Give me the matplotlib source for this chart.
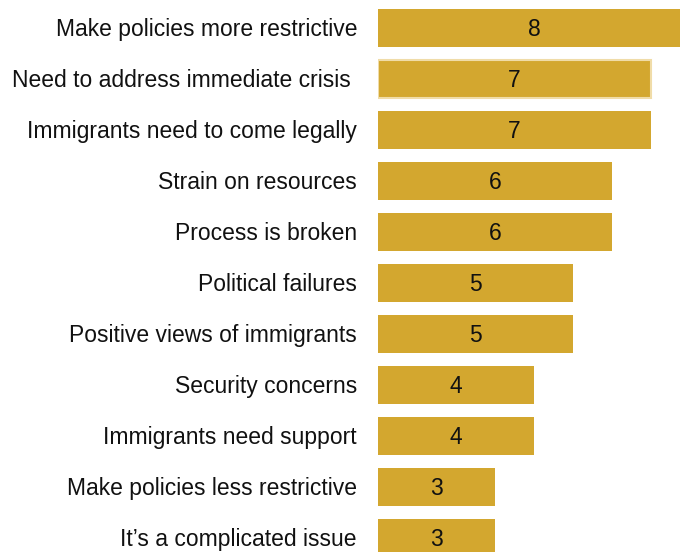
import matplotlib
matplotlib.use("Agg")
import matplotlib.pyplot as plt

# data
categorias = [
    "Make policies more restrictive",
    "Need to address immediate crisis ",
    "Immigrants need to come legally",
    "Strain on resources",
    "Process is broken",
    "Political failures",
    "Positive views of immigrants",
    "Security concerns",
    "Immigrants need support",
    "Make policies less restrictive",
    "It\u2019s a complicated issue",
]
valores = [8, 7, 7, 6, 6, 5, 5, 4, 4, 3, 3]
etiquetas = ["8", "7", "7", "6", "6", "5", "5", "4", "4", "3", "3"]

color_barra = "#D3A72F"
plt.rcParams["font.family"] = ["Liberation Sans", "DejaVu Sans"]

fig = plt.figure(figsize=(6.8, 5.52), dpi=100)
# la imagen original esta recortada: la barra de 8 y la ultima barra se salen
ax = fig.add_axes([378 / 680, 0, 1 - 378 / 680, 1])

pos = list(range(len(categorias)))
barras = ax.barh(pos, valores, height=0.745, color=color_barra, linewidth=0)
# la segunda barra tiene un borde claro
barras[1].set_edgecolor("#F0DCA8")
barras[1].set_linewidth(1.5)

ax.set_xlim(0, 302 / 39)
ax.set_ylim(524 / 51, -28 / 51)

for i in pos:
    ax.text(valores[i] / 2, i + 0.03, etiquetas[i], ha="center", va="center",
            fontsize=16.5, color="#111111")
    ax.text(-21 / 39, i + 0.03, categorias[i], ha="right", va="center",
            fontsize=16.5, color="#111111", clip_on=False)

ax.axis("off")
fig.savefig("out.png", dpi=100)
